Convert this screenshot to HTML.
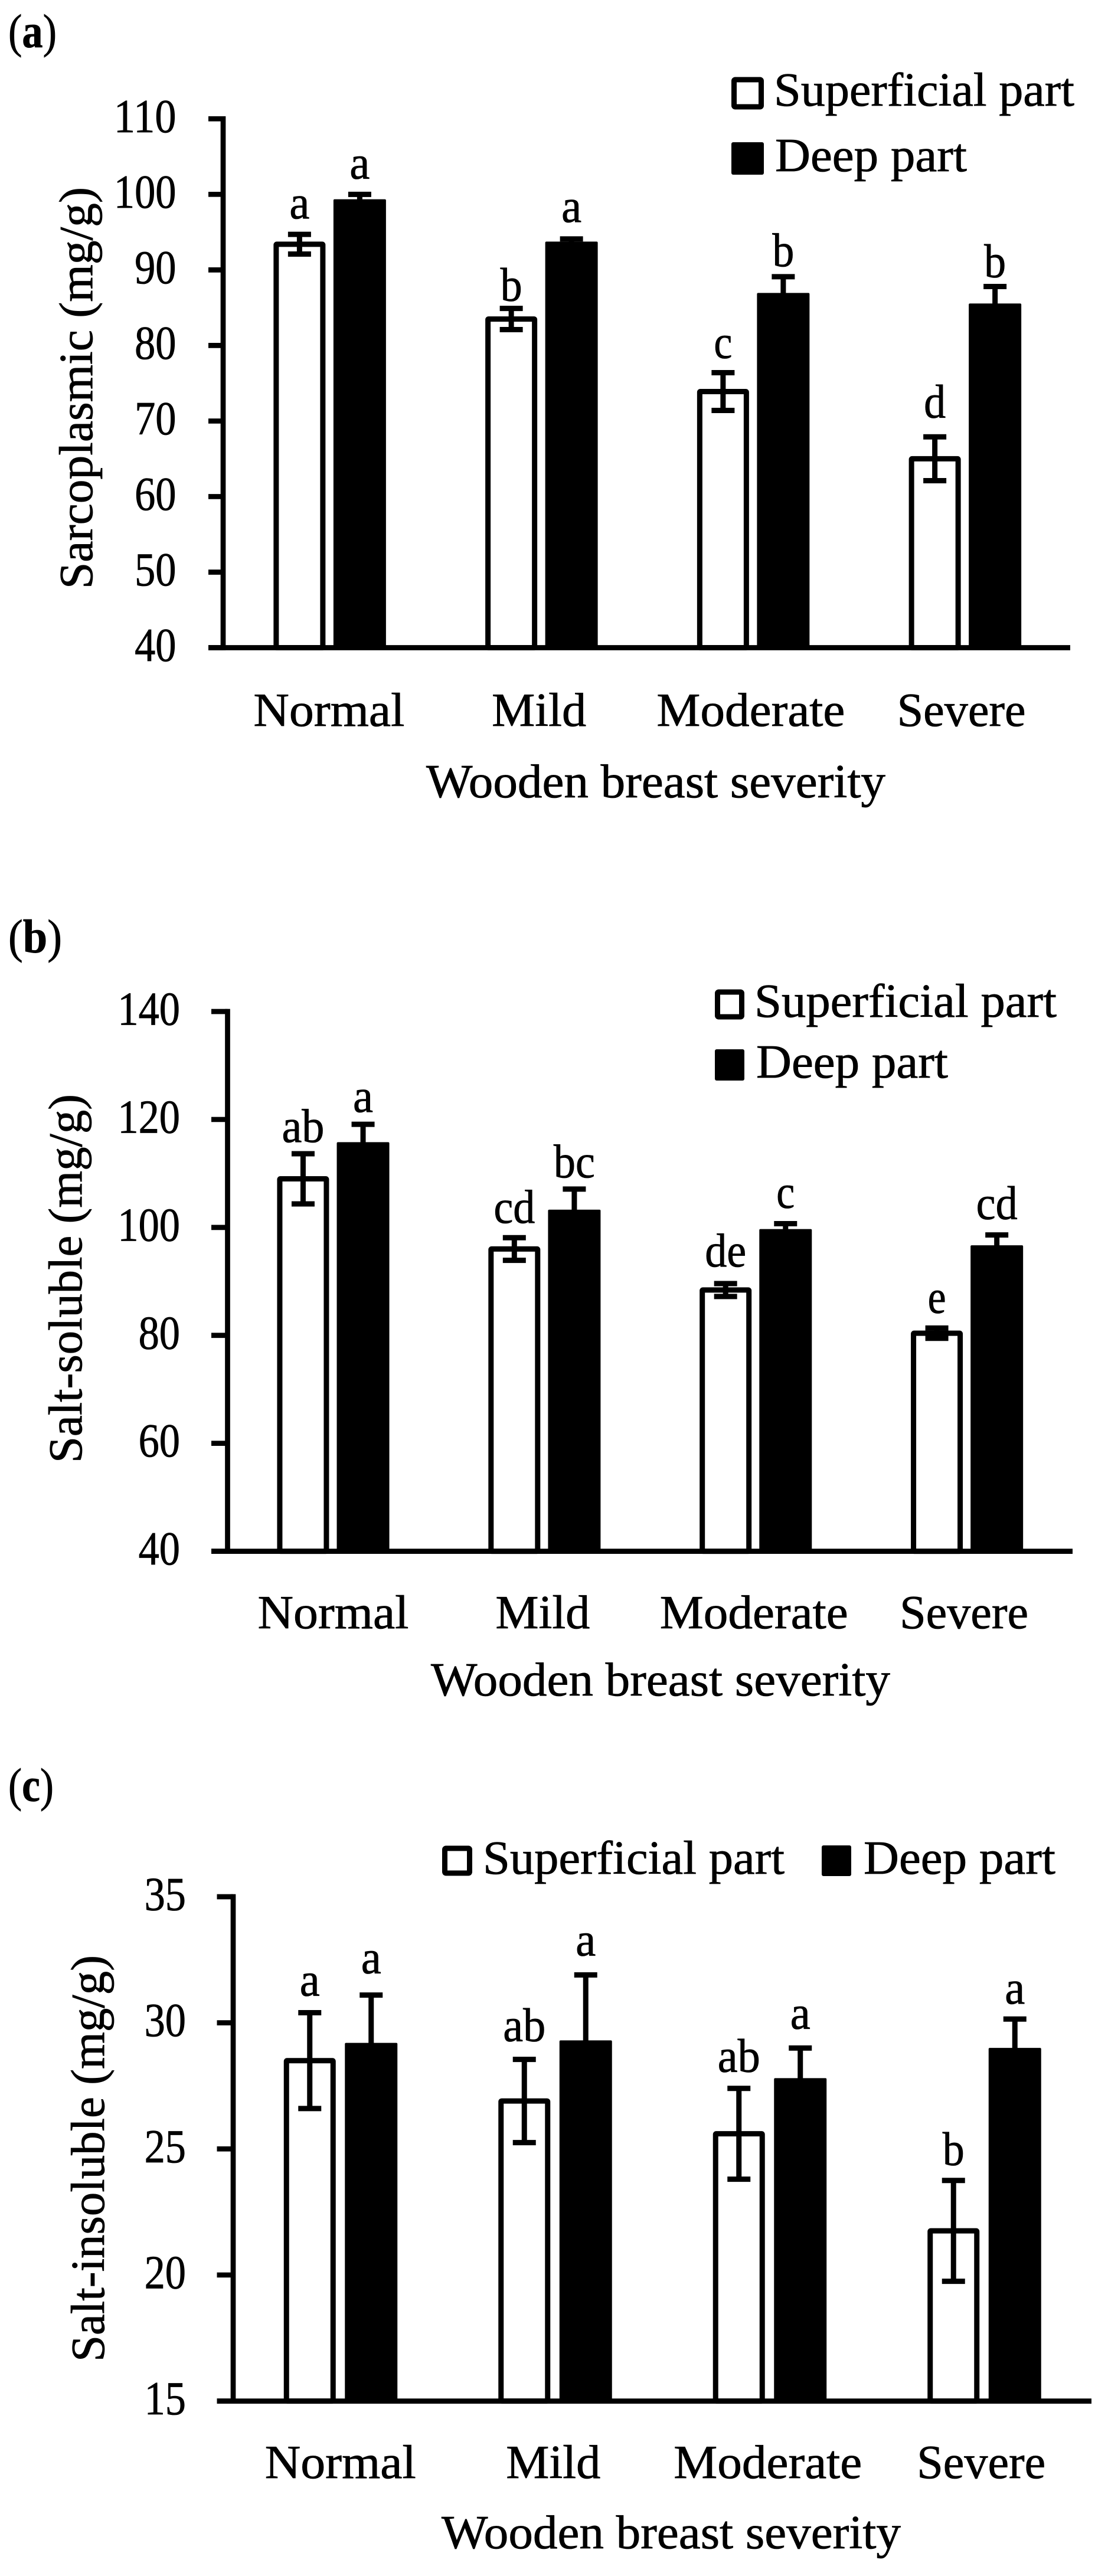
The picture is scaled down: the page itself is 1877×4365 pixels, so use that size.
<!DOCTYPE html>
<html lang="en">
<head>
<meta charset="utf-8">
<title>Protein solubility by wooden breast severity</title>
<style>
html,body{margin:0;padding:0;background:#fff}
svg{display:block}
text{font-family:"Liberation Serif",serif;font-size:80px;fill:#000;stroke:#000;stroke-width:0.8px}
</style>
</head>
<body>
<svg id="figure" xmlns="http://www.w3.org/2000/svg" width="1877" height="4365" viewBox="0 0 1877 4365">
  <rect x="0" y="0" width="1877" height="4365" fill="#fff"/>

  <g id="panel-a">
    <text x="14" y="80" textLength="82" lengthAdjust="spacingAndGlyphs">(<tspan font-weight="bold">a</tspan>)</text>
    <text transform="translate(156 998) rotate(-90)" textLength="681" lengthAdjust="spacingAndGlyphs">Sarcoplasmic (mg/g)</text>
    <text x="722" y="1351" textLength="778" lengthAdjust="spacingAndGlyphs">Wooden breast severity</text>
    <g>
      <rect x="1243.5" y="135" width="46" height="46" rx="2" fill="#fff" stroke="#000" stroke-width="9"/>
      <text x="1311" y="179" textLength="509" lengthAdjust="spacingAndGlyphs">Superficial part</text>
      <rect x="1239" y="241" width="55" height="55" rx="3" fill="#000"/>
      <text x="1313" y="290" textLength="325" lengthAdjust="spacingAndGlyphs">Deep part</text>
    </g>
  </g>

  <g id="panel-b">
    <text x="14" y="1614" textLength="91" lengthAdjust="spacingAndGlyphs">(<tspan font-weight="bold">b</tspan>)</text>
    <text transform="translate(138 2479) rotate(-90)" textLength="625" lengthAdjust="spacingAndGlyphs">Salt-soluble (mg/g)</text>
    <text x="730" y="2873" textLength="778" lengthAdjust="spacingAndGlyphs">Wooden breast severity</text>
    <g>
      <rect x="1215.5" y="1681" width="41" height="42" rx="2" fill="#fff" stroke="#000" stroke-width="9"/>
      <text x="1278" y="1723" textLength="512" lengthAdjust="spacingAndGlyphs">Superficial part</text>
      <rect x="1211" y="1778" width="50" height="53" rx="3" fill="#000"/>
      <text x="1281" y="1826" textLength="325" lengthAdjust="spacingAndGlyphs">Deep part</text>
    </g>
  </g>

  <g id="panel-c">
    <text x="14" y="3052" textLength="77" lengthAdjust="spacingAndGlyphs">(<tspan font-weight="bold">c</tspan>)</text>
    <text transform="translate(176 4002) rotate(-90)" textLength="689" lengthAdjust="spacingAndGlyphs">Salt-insoluble (mg/g)</text>
    <text x="748" y="4318" textLength="778" lengthAdjust="spacingAndGlyphs">Wooden breast severity</text>
    <g>
      <rect x="753.5" y="3132" width="42" height="42" rx="2" fill="#fff" stroke="#000" stroke-width="9"/>
      <text x="818" y="3175" textLength="511" lengthAdjust="spacingAndGlyphs">Superficial part</text>
      <rect x="1392" y="3127" width="50" height="52" rx="3" fill="#000"/>
      <text x="1463" y="3175" textLength="325" lengthAdjust="spacingAndGlyphs">Deep part</text>
    </g>
  </g>
</svg>

<script>
const categories = ["Normal", "Mild", "Moderate", "Severe"];

const ticksA = [40, 50, 60, 70, 80, 90, 100, 110];
const superficialA = [93.4, 83.5, 73.9, 65.0];
const deepA = [99.0, 93.4, 86.6, 85.2];
const superficialErrA = [1.3, 1.4, 2.5, 2.9];
const deepErrA = [1.0, 0.7, 2.5, 2.6];
const superficialLettersA = ["a", "b", "c", "d"];
const deepLettersA = ["a", "a", "b", "b"];

const ticksB = [40, 60, 80, 100, 120, 140];
const superficialB = [109.0, 96.0, 88.4, 80.4];
const deepB = [115.3, 102.8, 99.2, 96.2];
const superficialErrB = [4.65, 2.1, 1.2, 0.95];
const deepErrB = [3.8, 4.3, 1.5, 2.4];
const superficialLettersB = ["ab", "cd", "de", "e"];
const deepLettersB = ["a", "bc", "c", "cd"];

const ticksC = [15, 20, 25, 30, 35];
const superficialC = [28.5, 26.9, 25.6, 21.75];
const deepC = [29.1, 29.2, 27.7, 28.9];
const superficialErrC = [1.9, 1.65, 1.8, 2.0];
const deepErrC = [2.0, 2.7, 1.3, 1.25];
const superficialLettersC = ["a", "ab", "ab", "b"];
const deepLettersC = ["a", "a", "a", "a"];

/* layout only: no data below this line */
const SVG_NS = "http://www.w3.org/2000/svg";
const categoryWidths = [256, 160, 319, 218];
const categoryNudges = [0, -3, -3, -5];
const letterWidths = { a: 34, b: 37, c: 31, d: 37, e: 31, ab: 72, bc: 70, cd: 70, de: 70 };
const panels = [
  { id: "a", ticks: ticksA, s: superficialA, d: deepA, se: superficialErrA, de: deepErrA, sl: superficialLettersA, dl: deepLettersA,
    axisX: 378, endX: 1813, tickLeft: 353, top: 201.3, bottom: 1097.5, labelRight: 298.5, catBaseline: 1230,
    sOff: -50, dOff: 52, sLift: [27, 13, 25, 33], dLift: [27, 29, 18, 16] },
  { id: "b", ticks: ticksB, s: superficialB, d: deepB, se: superficialErrB, de: deepErrB, sl: superficialLettersB, dl: deepLettersB,
    axisX: 385.5, endX: 1817, tickLeft: 358, top: 1714, bottom: 2628.6, labelRight: 305, catBaseline: 2759,
    sOff: -51, dOff: 50.6, sLift: [20, 25, 29, 26], dLift: [21, 20, 27, 27] },
  { id: "c", ticks: ticksC, s: superficialC, d: deepC, se: superficialErrC, de: deepErrC, sl: superficialLettersC, dl: deepLettersC,
    axisX: 395, endX: 1849, tickLeft: 367.5, top: 3214, bottom: 4068.6, labelRight: 315, catBaseline: 4199,
    sOff: -52, dOff: 52, sLift: [29, 31, 28, 26], dLift: [37, 33, 33, 26] }
];

function make(tag, attrs, parent, content) {
  const node = document.createElementNS(SVG_NS, tag);
  for (const key in attrs) node.setAttribute(key, attrs[key]);
  if (content !== undefined) node.textContent = content;
  parent.appendChild(node);
  return node;
}

panels.forEach(function (p) {
  const root = document.getElementById("panel-" + p.id);
  const vMin = p.ticks[0];
  const vMax = p.ticks[p.ticks.length - 1];
  const yScale = function (v) { return p.bottom - (v - vMin) / (vMax - vMin) * (p.bottom - p.top); };
  const catWidth = (p.endX - p.axisX) / categories.length;
  const xCenter = function (i) { return p.axisX + catWidth * (i + 0.5); };

  categories.forEach(function (cat, i) {
    const group = make("g", {}, root);
    
    

    const sx = xCenter(i) + p.sOff;
    const dx = xCenter(i) + p.dOff;
    const sTop = yScale(p.s[i]);
    const dTop = yScale(p.d[i]);

    const sBar = make("rect", { x: sx - 39.5, y: sTop, width: 79, height: p.bottom - sTop, rx: 1, fill: "#fff", stroke: "#000", "stroke-width": 9 }, group);
    
    

    const dBar = make("rect", { x: dx - 44.5, y: dTop - 4.5, width: 89, height: p.bottom - dTop + 4.5, rx: 2, fill: "#000" }, group);
    
    

    [[sx, p.s[i], p.se[i], "superficial"], [dx, p.d[i], p.de[i], "deep"]].forEach(function (e) {
      const hi = yScale(e[1] + e[2]);
      const lo = yScale(e[1] - e[2]);
      const err = make("path", {
        d: "M" + e[0] + " " + hi + "V" + lo +
           "M" + (e[0] - 19.5) + " " + hi + "H" + (e[0] + 19.5) +
           "M" + (e[0] - 19.5) + " " + lo + "H" + (e[0] + 19.5),
        fill: "none", stroke: "#000", "stroke-width": 9
      }, group);
      
      
    });

    const sLetter = make("text", {
      x: sx, y: yScale(p.s[i] + p.se[i]) - p.sLift[i], "text-anchor": "middle",
      textLength: letterWidths[p.sl[i]], lengthAdjust: "spacingAndGlyphs"
    }, group, p.sl[i]);
    
    

    const dLetter = make("text", {
      x: dx, y: yScale(p.d[i] + p.de[i]) - p.dLift[i], "text-anchor": "middle",
      textLength: letterWidths[p.dl[i]], lengthAdjust: "spacingAndGlyphs"
    }, group, p.dl[i]);
    
    

    const catLabel = make("text", {
      x: xCenter(i) + categoryNudges[i], y: p.catBaseline, "text-anchor": "middle",
      textLength: categoryWidths[i], lengthAdjust: "spacingAndGlyphs"
    }, root, cat);
    
    
  });

  p.ticks.forEach(function (t) {
    const y = yScale(t);
    const tick = make("line", { x1: p.tickLeft, x2: p.axisX, y1: y, y2: y, stroke: "#000", "stroke-width": 8.7 }, root);
    
    

    const label = String(t);
    const tickLabel = make("text", {
      x: p.labelRight, y: y + 22.5, "text-anchor": "end",
      textLength: label.length * 35.2, lengthAdjust: "spacingAndGlyphs"
    }, root, label);
    
    
  });

  const yAxis = make("line", { x1: p.axisX, x2: p.axisX, y1: p.top - 4.35, y2: p.bottom + 4.35, stroke: "#000", "stroke-width": 8.7 }, root);
  
  

  const xAxis = make("line", { x1: p.tickLeft, x2: p.endX, y1: p.bottom, y2: p.bottom, stroke: "#000", "stroke-width": 8.7 }, root);
  
  
});
</script>
</body>
</html>
